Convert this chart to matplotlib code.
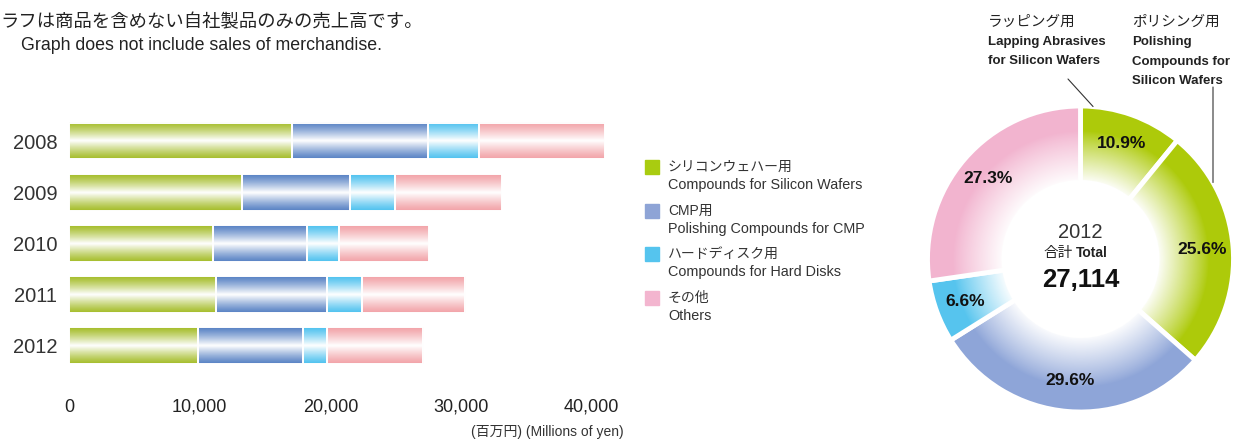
import numpy as np
import matplotlib
matplotlib.use('Agg')
import matplotlib.pyplot as plt
from matplotlib.patches import Rectangle

plt.rcParams['font.family'] = ['Liberation Sans', 'Noto Sans CJK JP']

# ---- data -------------------------------------------------------------
years = ['2008', '2009', '2010', '2011', '2012']
silicon = [17100, 13230, 10990, 11230, 9897]
cmp_ = [10350, 8260, 7200, 8530, 8026]
hard_disk = [3960, 3450, 2510, 2630, 1790]
others = [9590, 8160, 6840, 7900, 7401]
xticks = [0, 10000, 20000, 30000, 40000]
xtick_labels = ['0', '10,000', '20,000', '30,000', '40,000']

leg_jp = ['シリコンウェハー用', 'CMP用', 'ハードディスク用', 'その他']
leg_en = ['Compounds for Silicon Wafers', 'Polishing Compounds for CMP',
          'Compounds for Hard Disks', 'Others']

pie_labels = ['Lapping', 'Polishing', 'CMP', 'Hard Disk', 'Others']
pie_pct = [10.9, 25.6, 29.6, 6.6, 27.3]
pie_year = '2012'
pie_total = '27,114'

bar_colors = ['#a5bd2a', '#5882c4', '#4fc2ef', '#f2a3a8']
legend_colors = ['#a9cc10', '#8ea4d6', '#55c4ee', '#f3b5cf']
pie_colors = ['#adca0a', '#adca0a', '#8ea5d8', '#56c4ee', '#f2b4cf']

W, H = 1235, 442
fig = plt.figure(figsize=(W / 100, H / 100), dpi=100)


def px(x, y):
    # pixel position (top-left origin) -> figure fraction
    return x / W, 1 - y / H


# ---- header -----------------------------------------------------------
fig.text(*px(0, 22), 'ラフは商品を含めない自社製品のみの売上高です。',
         fontsize=13.2, va='center', family='Noto Sans CJK JP', color='#222')
fig.text(*px(21, 46), 'Graph does not include sales of merchandise.',
         fontsize=12.8, va='center', color='#222')

# ---- stacked bars -----------------------------------------------------
ax = fig.add_axes([69 / W, 1 - 375 / H, (617.8 - 69) / W, (375 - 110.4) / H])
y = np.arange(len(years))
series = [silicon, cmp_, hard_disk, others]
left = np.zeros(len(years))
u = np.linspace(0, 1, 64)
wgt = (1 - np.abs(2 * u - 1)) ** 1.2
for vals, col in zip(series, bar_colors):
    bars = ax.barh(y, vals, left=left, height=0.72, facecolor='none',
                   edgecolor='white', linewidth=1.4, zorder=3)
    dark = np.array(matplotlib.colors.to_rgb(col))
    grad = dark[None, :] * (1 - wgt[:, None]) + wgt[:, None]
    grad = grad[:, None, :]
    for b in bars:
        x0, y0, w, h = b.get_x(), b.get_y(), b.get_width(), b.get_height()
        ax.imshow(grad, extent=[x0, x0 + w, y0 + h, y0], aspect='auto',
                  interpolation='bilinear', zorder=2)
    left += np.array(vals)

ax.set_xlim(0, 42000)
ax.set_ylim(4.58, -0.6)
for s in ax.spines.values():
    s.set_visible(False)
ax.set_yticks(y)
ax.set_yticklabels(years, fontsize=14.5, color='#333')
ax.tick_params(axis='y', length=0, pad=8.5)
ax.set_xticks(xticks)
ax.set_xticklabels(xtick_labels, fontsize=13, color='#222')
ax.set_xticks(xticks[1:], minor=True)
ax.tick_params(axis='x', which='major', length=0, pad=17)
ax.tick_params(axis='x', which='minor', length=4.5, width=1, color='#333',
               direction='out')
fig.text(*px(624, 432), '(百万円) (Millions of yen)', fontsize=10,
         ha='right', va='center', color='#333')

# ---- legend -----------------------------------------------------------
for i, (jp, en, col) in enumerate(zip(leg_jp, leg_en, legend_colors)):
    yc = 167 + i * 43.7
    fig.add_artist(Rectangle(px(645, yc + 7), 14 / W, 14 / H,
                             transform=fig.transFigure, color=col))
    fig.text(*px(668, yc), jp, fontsize=10, va='center', color='#333')
    fig.text(*px(668, yc + 18), en, fontsize=10.4, va='center', color='#333')

# ---- donut ------------------------------------------------------------
cx, cy, R = 1080.5, 259, 153
ax2 = fig.add_axes([(cx - R) / W, 1 - (cy + R) / H, 2 * R / W, 2 * R / H])
wedges, _, autotexts = ax2.pie(
    pie_pct, colors=pie_colors, startangle=90, counterclock=False,
    radius=1, autopct='%.1f%%', pctdistance=0.8,
    wedgeprops=dict(width=0.5, edgecolor='white', linewidth=3.5),
    textprops=dict(fontsize=12.5, fontweight='bold', color='#111'))
for t in autotexts:
    t.set_zorder(5)

g = np.linspace(-1.05, 1.05, 500)
gx, gy = np.meshgrid(g, g)
r = np.hypot(gx, gy)
alpha = np.clip((0.84 - r) / (0.84 - 0.5), 0, 1) ** 0.9
over = np.ones((500, 500, 4))
over[..., 3] = alpha
ax2.imshow(over, extent=[-1.05, 1.05, -1.05, 1.05], zorder=2,
           interpolation='bilinear')
ax2.set_xlim(-1, 1)
ax2.set_ylim(-1, 1)
ax2.set_aspect('equal')
ax2.axis('off')

ax2.text(0, 0.176, pie_year, fontsize=14.5, ha='center', va='center',
         color='#333', zorder=5)
ax2.text(-0.05, 0.04, '合計', fontsize=10.5, ha='right', va='center',
         family='Noto Sans CJK JP', color='#222', zorder=5)
ax2.text(-0.03, 0.04, 'Total', fontsize=10, ha='left', va='center',
         fontweight='bold', color='#222', zorder=5)
ax2.text(0, -0.14, pie_total, fontsize=18.5, ha='center', va='center',
         fontweight='bold', color='#111', zorder=5)

# callouts
fig.text(*px(988, 22), 'ラッピング用', fontsize=10.5, va='center', color='#222')
fig.text(*px(988, 42), 'Lapping Abrasives', fontsize=9.5,
         fontweight='bold', va='center', color='#222')
fig.text(*px(988, 61), 'for Silicon Wafers', fontsize=9.5,
         fontweight='bold', va='center', color='#222')
fig.text(*px(1132, 22), 'ポリシング用', fontsize=10.5, va='center', color='#222')
for k, s in enumerate(['Polishing', 'Compounds for', 'Silicon Wafers']):
    fig.text(*px(1132, 42 + 19.5 * k), s, fontsize=9.5, fontweight='bold',
             va='center', color='#222')

for ang, start in [(85.3, (1068, 79)), (30.0, (1213, 87))]:
    a = np.radians(ang)
    ax2.annotate('', xy=(np.cos(a), np.sin(a)), xycoords='data',
                 xytext=(start[0], H - start[1]), textcoords='figure pixels',
                 arrowprops=dict(arrowstyle='-', lw=0.8, color='#333',
                                 shrinkA=0, shrinkB=0), zorder=6)

fig.savefig('out.png', dpi=100)
